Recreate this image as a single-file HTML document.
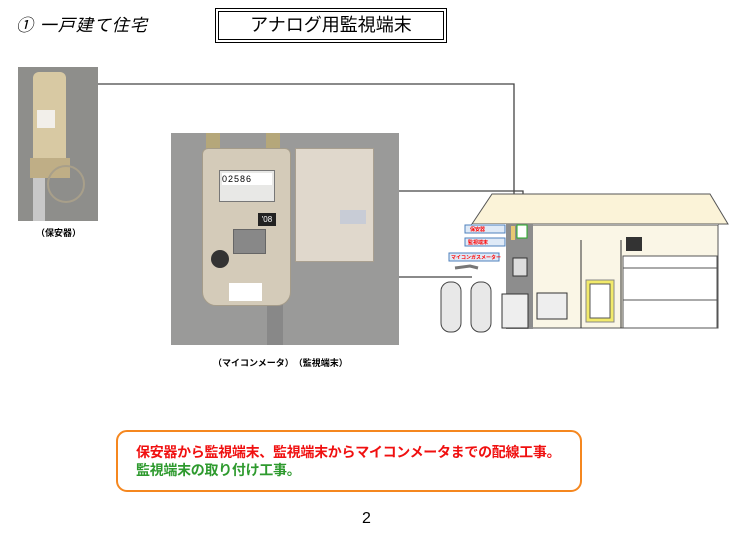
<!DOCTYPE html>
<html><head><meta charset="utf-8">
<style>
*{margin:0;padding:0;box-sizing:border-box}
body{width:749px;height:534px;background:#fff;position:relative;overflow:hidden;font-family:"Liberation Sans","Noto Sans CJK JP",sans-serif}
.a{position:absolute}
</style></head><body>
<div class="a" style="left:16px;top:11px;font-size:17px;color:#000;font-style:italic;letter-spacing:1px">① 一戸建て住宅</div>
<div class="a" style="left:215px;top:8px;width:232px;height:35px;border:1px solid #000;"></div>
<div class="a" style="left:218px;top:11px;width:226px;height:29px;border:1px solid #000;text-align:center;font-size:18px;line-height:27px">アナログ用監視端末</div>

<!-- photo 1 -->
<div class="a" style="left:18px;top:67px;width:80px;height:154px;background:#8e8e8b"></div>
<div class="a" style="left:33px;top:72px;width:33px;height:88px;background:#d8c9a3;border-radius:6px 6px 2px 2px"></div>
<div class="a" style="left:37px;top:110px;width:18px;height:18px;background:#f2efea"></div>
<div class="a" style="left:30px;top:158px;width:40px;height:20px;background:#bfae86"></div>
<div class="a" style="left:47px;top:165px;width:38px;height:38px;border:2px solid #a89f8a;border-radius:50%"></div>
<div class="a" style="left:33px;top:178px;width:12px;height:43px;background:#c8c8c8"></div>
<div class="a" style="left:36px;top:226px;font-size:9px;font-weight:bold">（保安器）</div>

<!-- photo 2 -->
<div class="a" style="left:171px;top:133px;width:228px;height:212px;background:#9a9a99"></div>
<div class="a" style="left:206px;top:133px;width:14px;height:18px;background:#b5a77a"></div>
<div class="a" style="left:266px;top:133px;width:14px;height:18px;background:#b5a77a"></div>
<div class="a" style="left:267px;top:300px;width:16px;height:45px;background:#888"></div>
<div class="a" style="left:202px;top:148px;width:89px;height:158px;background:#d4cbb9;border-radius:6px 6px 14px 14px;border:1px solid #a59c8a"></div>
<div class="a" style="left:219px;top:170px;width:56px;height:32px;background:#e8e8e6;border:1px solid #777"></div>
<div class="a" style="left:222px;top:173px;width:50px;height:12px;background:#fff;font-size:9px;line-height:12px;letter-spacing:1px">02586</div>
<div class="a" style="left:258px;top:213px;width:18px;height:13px;background:#222;color:#fff;font-size:8px;line-height:13px;text-align:center">'08</div>
<div class="a" style="left:233px;top:229px;width:33px;height:25px;background:#888;border:1px solid #666"></div>
<div class="a" style="left:211px;top:250px;width:18px;height:18px;background:#333;border-radius:50%"></div>
<div class="a" style="left:229px;top:283px;width:33px;height:18px;background:#fff"></div>
<div class="a" style="left:295px;top:148px;width:79px;height:114px;background:#e0d8cc;border:1px solid #a89f90"></div>
<div class="a" style="left:340px;top:210px;width:26px;height:14px;background:#c8ccd6"></div>
<div class="a" style="left:213px;top:356px;font-size:9px;font-weight:bold">（マイコンメータ）　（監視端末）</div>

<!-- connectors -->
<svg class="a" style="left:0;top:0" width="749" height="534">
<g stroke="#444" stroke-width="1.3" fill="none">
<polyline points="98,84 514,84 514,226"/>
<polyline points="399,191 523,191 523,232"/>
<polyline points="399,277 502,277"/>
</g>
<polygon points="492,194 710,194 728,224 472,224" fill="#fbf3d8" stroke="#555"/>
<polygon points="472,224 718,224 718,328 472,328" fill="#fff"/>
<rect x="532" y="225" width="186" height="103" fill="#faf6e6" stroke="#555"/>
<rect x="506" y="224" width="27" height="105" fill="#8d8d8d"/>
<rect x="517" y="225" width="10" height="13" fill="#fff" stroke="#2a2"/>
<rect x="511" y="226" width="4" height="14" fill="#e8c873"/>
<rect x="513" y="258" width="14" height="18" fill="#ddd" stroke="#333"/>
<rect x="502" y="294" width="26" height="34" fill="#eee" stroke="#333"/>
<line x1="581" y1="240" x2="581" y2="328" stroke="#333"/>
<line x1="621" y1="240" x2="621" y2="328" stroke="#333"/>
<rect x="586" y="280" width="28" height="42" fill="#f2ea6a" stroke="#888"/>
<rect x="590" y="284" width="20" height="34" fill="#fff" stroke="#555"/>
<rect x="537" y="293" width="30" height="26" fill="#eee" stroke="#333"/>
<rect x="626" y="237" width="16" height="14" fill="#333"/>
<rect x="623" y="256" width="94" height="72" fill="#fff" stroke="#555"/>
<line x1="623" y1="268" x2="717" y2="268" stroke="#555"/>
<line x1="623" y1="300" x2="717" y2="300" stroke="#555"/>
<rect x="441" y="282" width="20" height="50" rx="9" fill="#e8e8e8" stroke="#444"/>
<rect x="471" y="282" width="20" height="50" rx="9" fill="#e8e8e8" stroke="#444"/>
<path d="M455,268 L470,266 L478,268" stroke="#777" stroke-width="3" fill="none"/>
<g font-size="5" fill="red" font-weight="bold">
<rect x="465" y="225" width="40" height="8" fill="#dfeaf7" stroke="#4f81bd"/>
<text x="470" y="231">保安器</text>
<rect x="465" y="238" width="40" height="8" fill="#dfeaf7" stroke="#4f81bd"/>
<text x="468" y="244">監視端末</text>
<rect x="449" y="253" width="50" height="8" fill="#dfeaf7" stroke="#4f81bd"/>
<text x="451" y="259">マイコンガスメーター</text>
</g>
</svg>

<div class="a" style="left:116px;top:430px;width:466px;height:62px;border:2px solid #f5871f;border-radius:11px"></div>
<div class="a" style="left:136px;top:443px;font-size:14px;font-weight:bold;color:#f01010;line-height:18px;white-space:nowrap;letter-spacing:-0.3px">保安器から監視端末、監視端末からマイコンメータまでの配線工事。</div>
<div class="a" style="left:136px;top:461px;font-size:14px;font-weight:bold;color:#2e9a2e;line-height:18px;letter-spacing:-0.3px">監視端末の取り付け工事。</div>
<div class="a" style="left:362px;top:510px;font-size:16px">2</div>
</body></html>
